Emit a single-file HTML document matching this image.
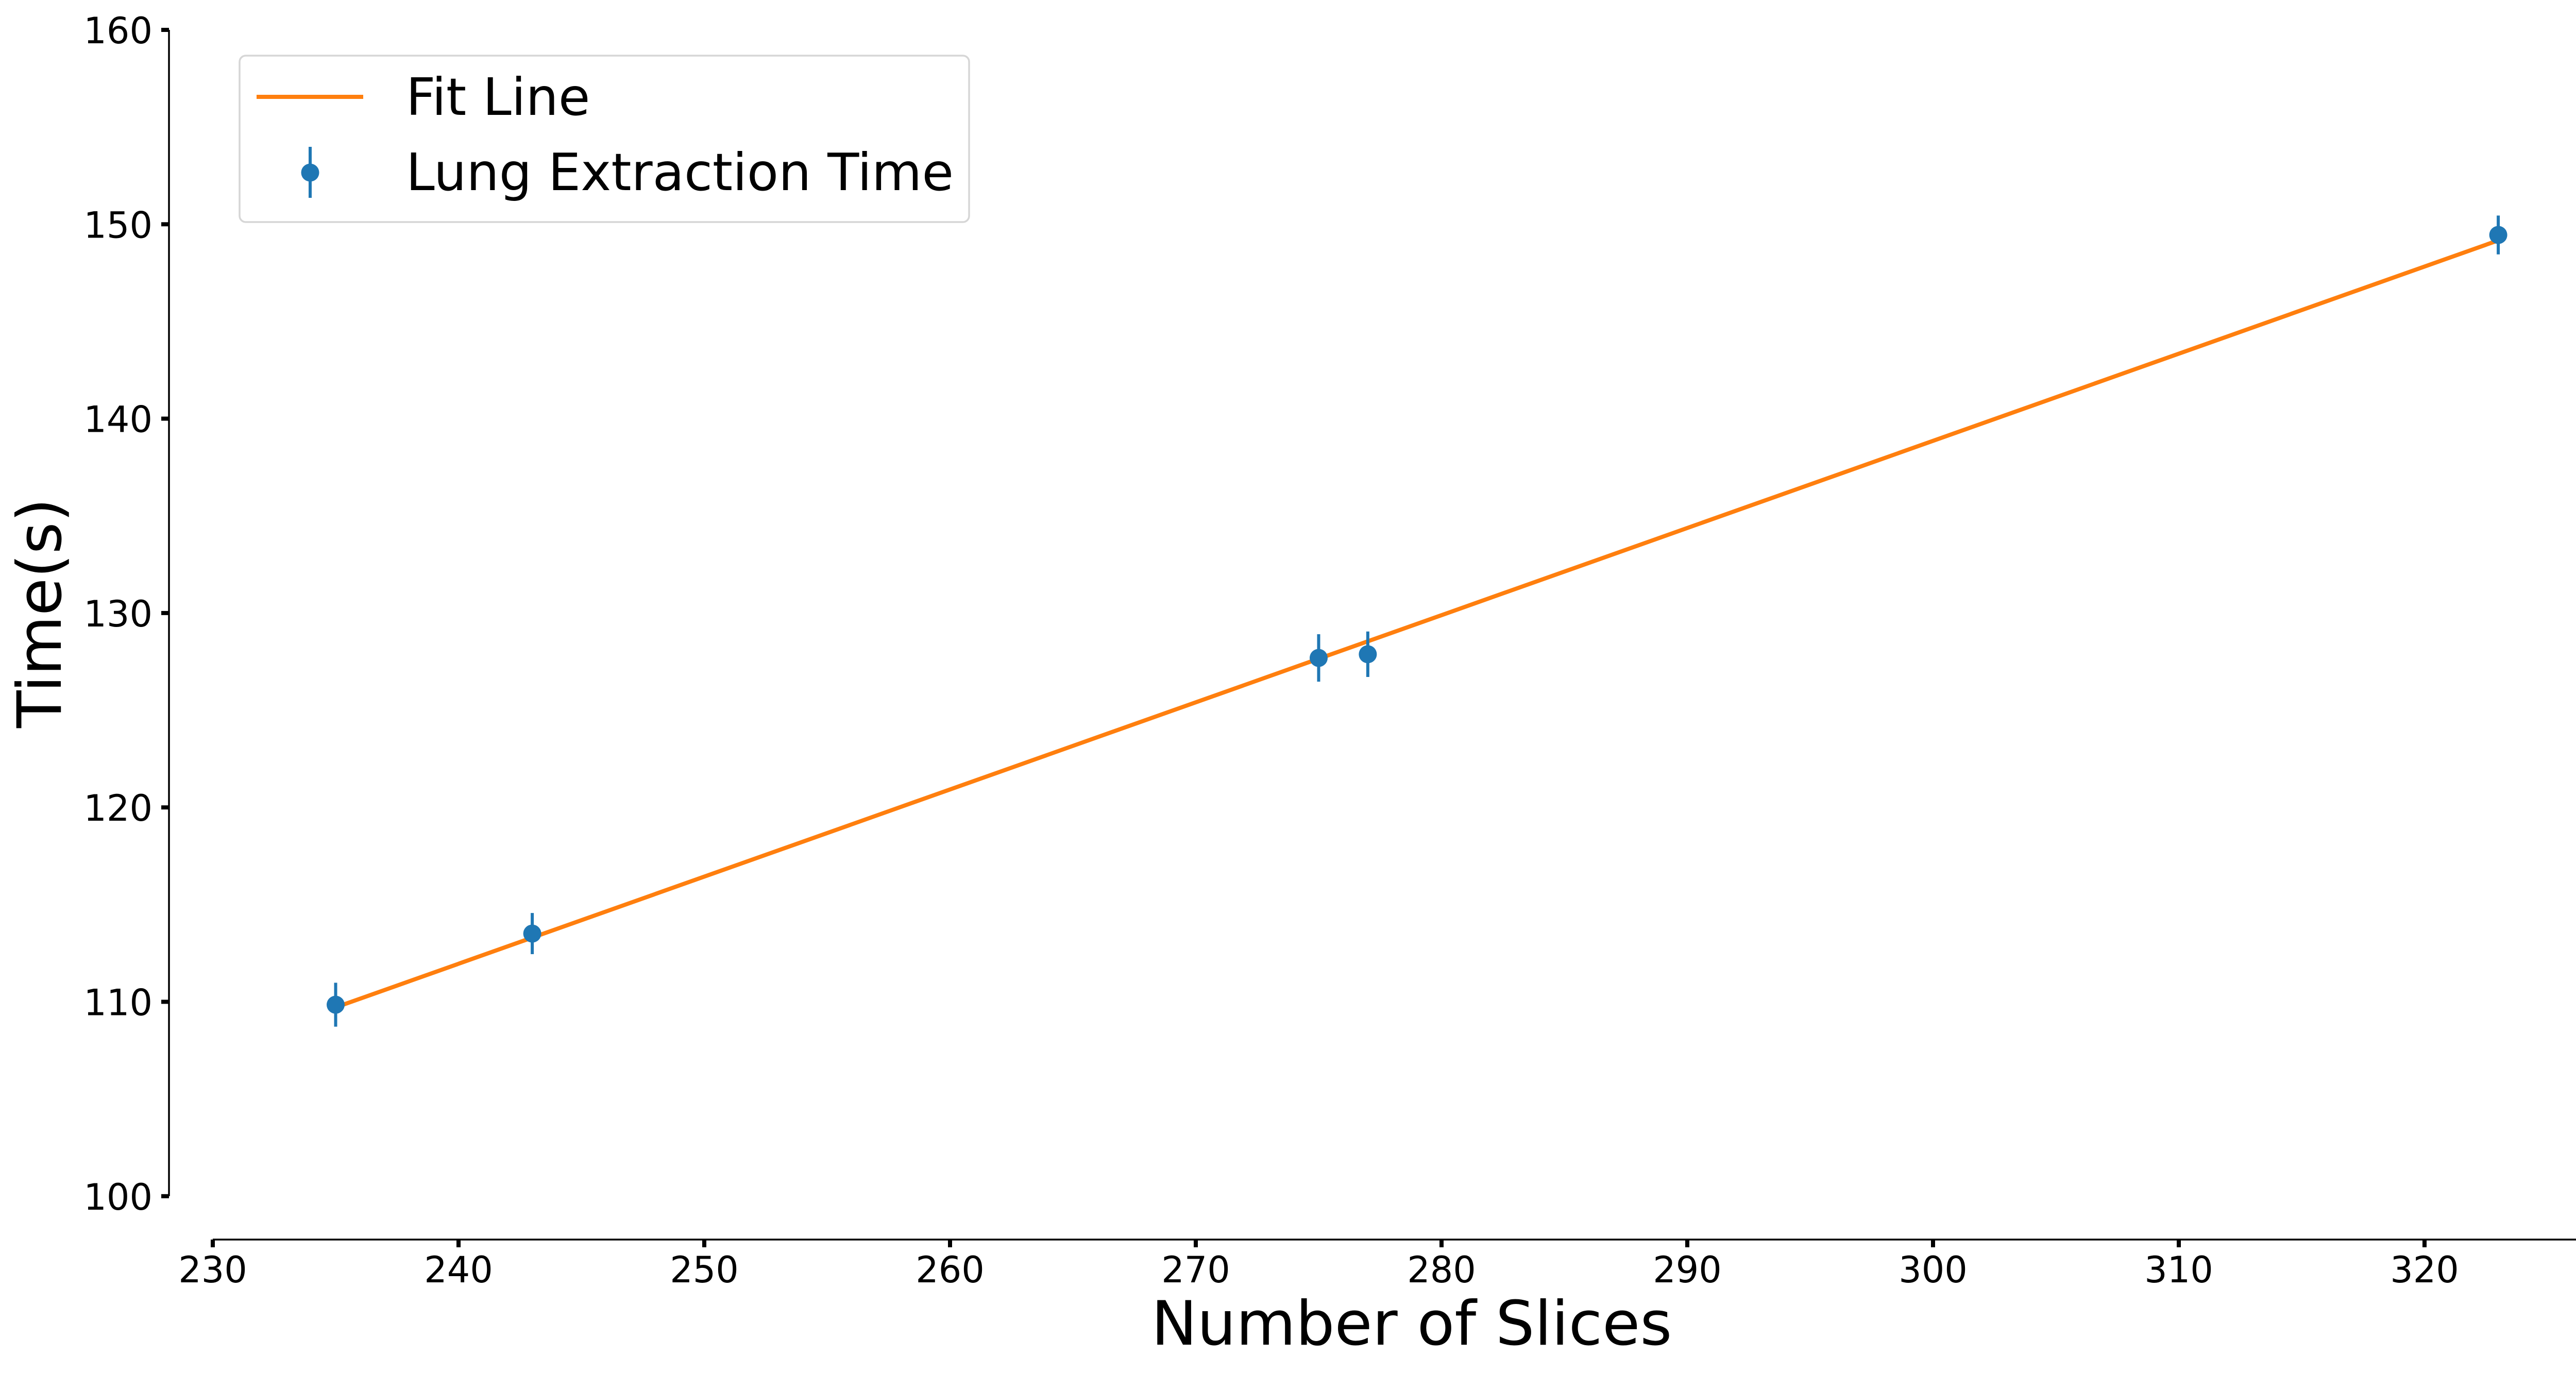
<!DOCTYPE html>
<html><head><meta charset="utf-8"><style>
html,body{margin:0;padding:0;background:#fff;}
svg{display:block;font-family:"DejaVu Sans","Liberation Sans",sans-serif;}
</style></head>
<body>
<svg id="chart" width="5091" height="2665" viewBox="0 0 5091 2665" xmlns="http://www.w3.org/2000/svg">
<rect width="5091" height="2665" fill="#fff"/>
<g id="axes"></g>
<g id="series"></g>
<text x="2740" y="2610" font-size="119" text-anchor="middle">Number of Slices</text>
<text x="0" y="0" font-size="119" text-anchor="middle" transform="translate(118,1190) rotate(-90)">Time(s)</text>
<g>
<rect x="465" y="108" width="1416" height="323" rx="12" fill="#fff" fill-opacity="0.8" stroke="#d6d6d6" stroke-width="3.5"/>
<line x1="498" y1="188" x2="705" y2="188" stroke="#ff7f0e" stroke-width="8"/>
<text x="788" y="223" font-size="100">Fit Line</text>
<line x1="602" y1="285" x2="602" y2="384" stroke="#1f77b4" stroke-width="6"/>
<circle cx="602" cy="335" r="17.5" fill="#1f77b4"/>
<text x="788" y="369" font-size="100">Lung Extraction Time</text>
</g>
</svg>
<script>
const slices = [235, 243, 275, 277, 323];
const times = [109.85, 113.51, 127.69, 127.88, 149.45];
const errors = [1.13, 1.06, 1.22, 1.17, 1.0];
const xTicks = [230, 240, 250, 260, 270, 280, 290, 300, 310, 320];
const yTicks = [100, 110, 120, 130, 140, 150, 160];

const NS = 'http://www.w3.org/2000/svg';
function xs(v){ return 413 + (v - 230) * 47.7; }
function ys(v){ return 58 + (160 - v) * 37.73; }
function mk(tag, attrs, parent){
  const e = document.createElementNS(NS, tag);
  for (const k in attrs) e.setAttribute(k, attrs[k]);
  parent.appendChild(e);
  return e;
}
const axes = document.getElementById('axes');
const series = document.getElementById('series');

// spines
let s = mk('line', {x1:328, y1:ys(160), x2:328, y2:ys(100), stroke:'#000', 'stroke-width':3.5}, axes);


s = mk('line', {x1:xs(230), y1:2406, x2:5061, y2:2406, stroke:'#000', 'stroke-width':3.5}, axes);



xTicks.forEach(v => {
  const t = mk('line', {x1:xs(v), y1:2406, x2:xs(v), y2:2421, stroke:'#000', 'stroke-width':8}, axes);
  
  
  const l = mk('text', {x:xs(v), y:2489, 'font-size':70, 'text-anchor':'middle'}, axes);
  l.textContent = String(v);
  
  
});
yTicks.forEach(v => {
  const t = mk('line', {x1:313, y1:ys(v), x2:328, y2:ys(v), stroke:'#000', 'stroke-width':8}, axes);
  
  
  const l = mk('text', {x:296, y:ys(v)+26, 'font-size':70, 'text-anchor':'end'}, axes);
  l.textContent = String(v);
  
  
});

// least squares fit
const n = slices.length;
const mx = slices.reduce((a,b)=>a+b,0)/n;
const my = times.reduce((a,b)=>a+b,0)/n;
let sxy = 0, sxx = 0;
for (let i=0;i<n;i++){ sxy += (slices[i]-mx)*(times[i]-my); sxx += (slices[i]-mx)**2; }
const slope = sxy/sxx, icpt = my - slope*mx;
const x0 = Math.min(...slices), x1 = Math.max(...slices);
const fit = mk('line', {x1:xs(x0), y1:ys(icpt+slope*x0), x2:xs(x1), y2:ys(icpt+slope*x1), stroke:'#ff7f0e', 'stroke-width':8}, series);



for (let i=0;i<n;i++){
  const eb = mk('line', {x1:xs(slices[i]), y1:ys(times[i]+errors[i]), x2:xs(slices[i]), y2:ys(times[i]-errors[i]), stroke:'#1f77b4', 'stroke-width':6}, series);
  
  
  const c = mk('circle', {cx:xs(slices[i]), cy:ys(times[i]), r:17.5, fill:'#1f77b4'}, series);
  
  
}
</script>
</body></html>
